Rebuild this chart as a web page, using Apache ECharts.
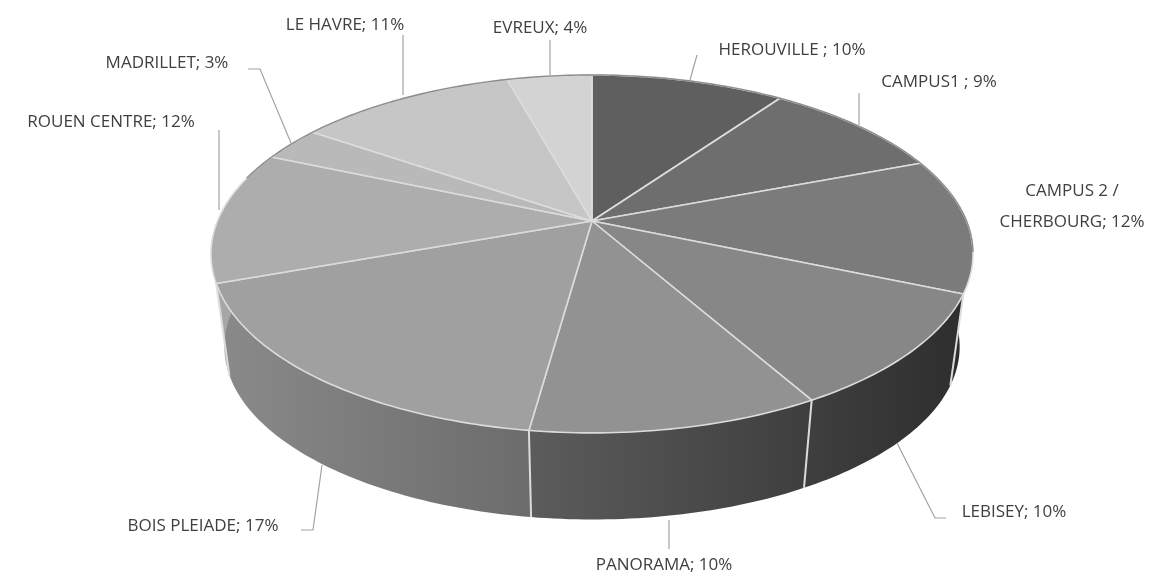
<!DOCTYPE html>
<html>
<head>
<meta charset="utf-8">
<style>html,body{margin:0;padding:0;background:#fff}#chart{width:1168px;height:579px}</style>
<script src="https://cdn.jsdelivr.net/npm/echarts@6/dist/echarts.min.js"></script>
</head>
<body>
<div id="chart"></div>
<script>
// ---- data ----
const categories = ['HEROUVILLE ', 'CAMPUS1 ', 'CAMPUS 2 / CHERBOURG', 'LEBISEY', 'PANORAMA', 'BOIS PLEIADE', 'ROUEN CENTRE', 'MADRILLET', 'LE HAVRE', 'EVREUX'];
const shares = [9.8, 9.4, 12.2, 10.4, 10.4, 17.3, 12.0, 3.1, 11.1, 4.3];

// ---- style ----
const topColors = ['#5f5f5f', '#6e6e6e', '#7b7b7b', '#878787', '#929292', '#a0a0a0', '#adadad', '#b9b9b9', '#c6c6c6', '#d3d3d3'];
const wallColors = [
  ['#3a3a3a', '#3a3a3a'], ['#3a3a3a', '#3a3a3a'], ['#333333', '#2b2b2b'], ['#3f3f3f', '#2e2e2e'],
  ['#5c5c5c', '#3e3e3e'], ['#8a8a8a', '#6c6c6c'], ['#a8a8a8', '#a0a0a0'], ['#b0b0b0', '#b0b0b0'],
  ['#b0b0b0', '#b0b0b0'], ['#b0b0b0', '#b0b0b0']
];
const TEXT = '#404040', LEADER = '#a3a3a3', EDGE = '#dcdcdc';
const FONT = '17px "Open Sans", "Noto Sans", sans-serif';

// ---- perspective disc layout ----
const disc = { x0: 592, yTop: 221, yBottom: 315, a: 374.5, b: 172.9, k: 0.184, bottomScale: 0.965 };

// label anchors and leader-line routes, by category index
const labelLayout = [
  { x: 792, y: 50, lines: [[697, 55], [690, 80]] },
  { x: 939, y: 82, lines: [[859, 93], [859, 125]] },
  { x: 1072, y: 207, lines: null },
  { x: 1014, y: 512, lines: [[897, 443], [935, 518], [946, 518]] },
  { x: 664, y: 565, lines: [[669, 520], [669, 549]] },
  { x: 203, y: 526, lines: [[322, 465], [313, 530], [301, 530]] },
  { x: 111, y: 122, lines: [[219, 130], [219, 210]] },
  { x: 167, y: 63, lines: [[248, 69], [260, 69], [291, 143]] },
  { x: 345, y: 25, lines: [[403, 35], [403, 95]] },
  { x: 540, y: 28, lines: [[550, 40], [550, 75]] }
];

const total = shares.reduce((s, v) => s + v, 0);
const startDeg = [];
shares.reduce((acc, v, i) => { startDeg[i] = acc / total * 360; return acc + v; }, 0);

function project(deg, level) {
  const t = deg * Math.PI / 180, X = Math.sin(t), Y = Math.cos(t), w = 1 + disc.k * Y;
  if (level === 0) return [disc.x0 + disc.a * X / w, disc.yTop - disc.b * Y / w];
  const s = disc.bottomScale;
  return [disc.x0 + s * disc.a * X / w, disc.yBottom - s * disc.b * Y / w];
}
function arc(from, to, level) {
  const pts = [], n = Math.max(2, Math.ceil((to - from) / 1));
  for (let j = 0; j <= n; j++) pts.push(project(from + (to - from) * j / n, level));
  return pts;
}
function spanOf(i) {
  const from = startDeg[i], to = from + shares[i] / total * 360;
  return [from, to];
}
function isFront(deg) { return deg > 100 && deg < 262; }

function renderWall(params) {
  const i = params.dataIndex, [from, to] = spanOf(i);
  const pts = arc(from, to, 0).concat(arc(from, to, 1).reverse());
  const children = [{
    type: 'polygon', shape: { points: pts },
    style: { fill: { type: 'linear', x: 0, y: 0, x2: 1, y2: 0, colorStops: [{ offset: 0, color: wallColors[i][0] }, { offset: 1, color: wallColors[i][1] }] }, stroke: null }
  }];
  if (isFront(from)) {
    children.push({
      type: 'line',
      shape: { x1: project(from, 0)[0], y1: project(from, 0)[1], x2: project(from, 1)[0], y2: project(from, 1)[1] },
      style: { stroke: EDGE, lineWidth: 2 }
    });
  }
  return { type: 'group', children };
}
function renderTop(params) {
  const i = params.dataIndex, [from, to] = spanOf(i);
  const pts = [project(0, -1 + 1)].slice(0, 0).concat([[disc.x0, disc.yTop]], arc(from, to, 0));
  const children = [{
    type: 'polygon', shape: { points: pts },
    style: { fill: topColors[i], stroke: EDGE, lineWidth: 1.6, lineJoin: 'round' }
  }];
  return { type: 'group', children };
}
function renderBackRim(params) {
  const i = params.dataIndex, [from, to] = spanOf(i);
  const a = to > 285 ? Math.max(from, 285) : from, b = from < 100 ? Math.min(to, 100) : to;
  if (from >= 100 && to <= 285) return null;
  return { type: 'polyline', shape: { points: arc(a, b, 0) }, style: { fill: null, stroke: '#8c8c8c', lineWidth: 1.4 } };
}
function labelText(i) {
  const pct = Math.round(shares[i]) + '%';
  if (i === 2) return 'CAMPUS 2 /\nCHERBOURG; ' + pct;
  return categories[i] + '; ' + pct;
}
function renderLabel(params) {
  const i = params.dataIndex, l = labelLayout[i], children = [];
  if (l.lines) children.push({ type: 'polyline', shape: { points: l.lines }, style: { fill: null, stroke: LEADER, lineWidth: 1.2 } });
  children.push({
    type: 'text',
    style: { x: l.x, y: l.y, text: labelText(i), fill: TEXT, font: FONT, align: 'center', verticalAlign: 'middle', lineHeight: 31 }
  });
  return { type: 'group', children };
}

const seriesData = shares.map((v, i) => [i, v]);
const chart = echarts.init(document.getElementById('chart'), null, { renderer: 'canvas' });
chart.setOption({
  animation: false,
  backgroundColor: '#ffffff',
  series: [
    { type: 'custom', coordinateSystem: 'none', renderItem: renderWall, data: seriesData, z: 1, silent: true },
    { type: 'custom', coordinateSystem: 'none', renderItem: renderTop, data: seriesData, z: 2, silent: true },
    { type: 'custom', coordinateSystem: 'none', renderItem: renderBackRim, data: seriesData, z: 3, silent: true },
    { type: 'custom', coordinateSystem: 'none', renderItem: renderLabel, data: seriesData, z: 4, silent: true }
  ]
});
</script>
</body>
</html>
